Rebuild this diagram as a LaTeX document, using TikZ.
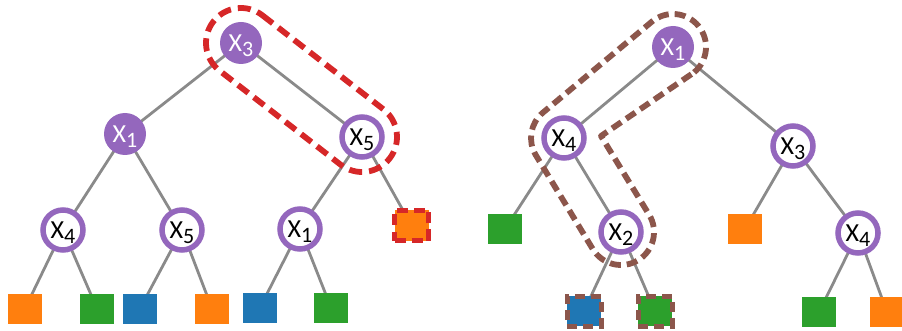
\documentclass[tikz,border=0pt]{standalone}
\usepackage{fontspec}
\setmainfont{Carlito}
\usetikzlibrary{backgrounds}

\definecolor{tpurple}{HTML}{9467BD}
\definecolor{torange}{HTML}{FF7F0E}
\definecolor{tgreen}{HTML}{2CA02C}
\definecolor{tblue}{HTML}{1F77B4}
\definecolor{tred}{HTML}{D62728}
\definecolor{tbrown}{HTML}{8C564B}
\definecolor{tgray}{HTML}{8A8A8A}

% feature label: X with a lowered index
\newcommand\feat[1]{X\raisebox{-5.5pt}[0pt][0pt]{\fontsize{22}{22}\selectfont #1}}

\begin{document}
\begin{tikzpicture}[x=1pt,y=-1pt,
  every node/.style={font=\fontsize{26}{26}\selectfont, inner sep=0pt},
  splitfull/.style={circle, fill=tpurple, text=white, minimum size=42pt},
  splitring/.style={circle, draw=tpurple, fill=white, line width=5.5pt, minimum size=40pt},
  leaf/.style={rectangle, minimum width=34pt, minimum height=30pt},
  markred/.style={draw=tred, line width=5pt, dash pattern=on 11pt off 6pt},
  markbrown/.style={draw=tbrown, line width=5pt, dash pattern=on 10pt off 6pt},
  edge/.style={draw=tgray, line width=2.8pt},
  loopred/.style={draw=tred, line width=5.8pt, dash pattern=on 13pt off 7pt, line join=round},
  loopbrown/.style={draw=tbrown, line width=5.8pt, dash pattern=on 11pt off 6pt, line join=round}]
\useasboundingbox (0,0) rectangle (902,331);

% ---------- left tree ----------
\node[splitfull] (lx3)  at (241,43)  {\feat{3}};
\node[splitfull] (lx1)  at (125,134) {\feat{1}};
\node[splitring] (lx5)  at (362,137) {\feat{5}};
\node[splitring] (lx4)  at (63,230)  {\feat{4}};
\node[splitring] (lx5b) at (182,230) {\feat{5}};
\node[splitring] (lx1b) at (300,229) {\feat{1}};
\node[leaf, fill=torange] (la) at (25,308.5)  {};
\node[leaf, fill=tgreen]  (lb) at (97,308.5)  {};
\node[leaf, fill=tblue]   (lc) at (140,308.5) {};
\node[leaf, fill=torange] (ld) at (212,308.5) {};
\node[leaf, fill=tblue]   (le) at (260,307.5) {};
\node[leaf, fill=tgreen]  (lf) at (331,307.5) {};
\node[leaf, fill=torange, markred] (lg) at (411.5,225.5) {};

% ---------- right tree ----------
\node[splitfull] (rx1)  at (673,47)  {\feat{1}};
\node[splitring] (rx4)  at (564,138) {\feat{4}};
\node[splitring] (rx3)  at (793,146) {\feat{3}};
\node[splitring] (rx2)  at (621,232) {\feat{2}};
\node[splitring] (rx4b) at (858,233) {\feat{4}};
\node[leaf, fill=tgreen]  (ra) at (505,229) {};
\node[leaf, fill=tblue, markbrown]  (rb) at (584,311) {};
\node[leaf, fill=tgreen, markbrown] (rc) at (655,311) {};
\node[leaf, fill=torange] (rd) at (745,229) {};
\node[leaf, fill=tgreen]  (re) at (819,312) {};
\node[leaf, fill=torange] (rf) at (887,312) {};

\begin{scope}[on background layer]
  \foreach \p/\c in {lx3/lx1, lx3/lx5, lx1/lx4, lx1/lx5b, lx5/lx1b, lx5/lg,
                     lx4/la, lx4/lb, lx5b/lc, lx5b/ld, lx1b/le, lx1b/lf,
                     rx1/rx4, rx1/rx3, rx4/ra, rx4/rx2, rx2/rb, rx2/rc,
                     rx3/rd, rx3/rx4b, rx4b/re, rx4b/rf}
    \draw[edge] (\p.center) -- (\c.center);
\end{scope}

% decision path X3 -> X5
\draw[loopred]
  ([shift={(-52.2:35)}]lx3.center) -- ([shift={(-52.2:35)}]lx5.center)
  arc[start angle=-52.2, end angle=127.8, radius=35]
  -- ([shift={(127.8:35)}]lx3.center)
  arc[start angle=127.8, end angle=307.8, radius=35] -- cycle;

% decision path X1 -> X4 -> X2
\draw[loopbrown]
  ([shift={(50.1:33)}]rx1.center)
  arc[start angle=50.1, end angle=-129.9, radius=33]
  -- ([shift={(230.1:33)}]rx4.center)
  arc[start angle=230.1, end angle=148.7, radius=33]
  -- ([shift={(148.7:33)}]rx2.center)
  arc[start angle=148.7, end angle=-31.3, radius=33]
  -- ([shift={(37,-2)}]rx4.center) -- cycle;
\end{tikzpicture}
\end{document}
